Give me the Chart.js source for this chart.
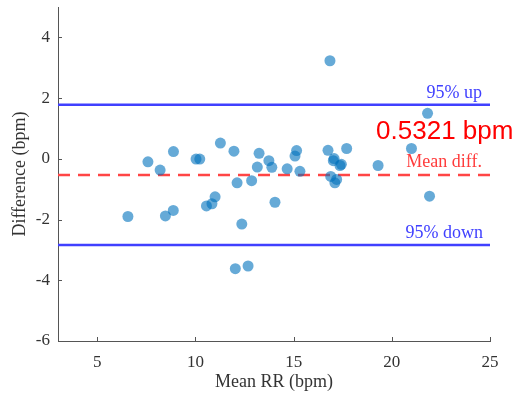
<!DOCTYPE html>
<html>
<head>
<meta charset="utf-8">
<script src="https://cdn.jsdelivr.net/npm/chart.js@4/dist/chart.umd.min.js"></script>
<style>
  html, body { margin: 0; padding: 0; background: #fff; }
  #wrap { width: 516px; height: 396px; }
</style>
</head>
<body>
<div id="wrap"><canvas id="bland" width="516" height="396"></canvas></div>
<script>
// Bland-Altman data
const meanRR = [
  6.56, 7.58, 8.20, 8.47, 8.87, 8.88, 10.03, 10.22, 10.56, 10.84,
  11.00, 11.27, 11.96, 12.12, 12.36, 12.03, 12.68, 12.86, 13.15, 13.24,
  13.74, 13.89, 14.05, 14.67, 15.07, 15.15, 15.32, 16.85, 16.75, 17.06,
  17.02, 17.43, 17.36, 17.70, 16.89, 17.19, 17.10, 19.30, 21.00, 21.82,
  21.92
];
const diffRR = [
  -1.90, -0.10, -0.37, -1.88, -1.70, 0.24, -0.01, -0.01, -1.55, -1.48,
  -1.25, 0.52, 0.25, -0.79, -2.15, -3.62, -3.53, -0.72, -0.27, 0.18,
  -0.06, -0.28, -1.43, -0.33, 0.09, 0.27, -0.41, 3.23, 0.28, 0.01,
  -0.06, -0.18, -0.22, 0.34, -0.58, -0.68, -0.79, -0.22, 0.34, 1.50,
  -1.23
];

const meanDiff = -0.53;
const upperLimit = 1.78;
const lowerLimit = -2.84;

const xTicks = [5, 10, 15, 20, 25];
const yTicks = [-6, -4, -2, 0, 2, 4];
const xRange = [3, 25];
const yRange = [-6, 5];

const serif = '"Liberation Serif", "DejaVu Serif", serif';
const blue = '#4040ff';
const red = '#ff4545';
const axisColor = '#555555';

const hLine = (value) => [
  { x: xRange[0], y: value },
  { x: xRange[1], y: value },
];

// inward tick marks + text labels
const decorations = {
  id: 'decorations',
  afterDatasetsDraw(chart) {
    const { ctx, chartArea } = chart;
    const xScale = chart.scales.x;
    const yScale = chart.scales.y;

    ctx.save();
    ctx.strokeStyle = axisColor;
    ctx.lineWidth = 1;
    ctx.beginPath();
    xTicks.forEach((tick) => {
      const px = Math.round(xScale.getPixelForValue(tick)) + 0.5;
      ctx.moveTo(px, chartArea.bottom);
      ctx.lineTo(px, chartArea.bottom - 4);
    });
    yTicks.forEach((tick) => {
      const py = Math.round(yScale.getPixelForValue(tick)) + 0.5;
      ctx.moveTo(chartArea.left, py);
      ctx.lineTo(chartArea.left + 4, py);
    });
    ctx.stroke();

    const rightX = xScale.getPixelForValue(xRange[1]) - 8;
    ctx.textAlign = 'right';
    ctx.textBaseline = 'alphabetic';
    ctx.font = `18px ${serif}`;

    ctx.fillStyle = blue;
    ctx.fillText('95% up', rightX, yScale.getPixelForValue(upperLimit) - 7);
    ctx.fillText('95% down', rightX + 1, yScale.getPixelForValue(lowerLimit) - 7);

    ctx.fillStyle = '#ff3b3b';
    ctx.fillText('Mean diff.', rightX, yScale.getPixelForValue(meanDiff) - 8);

    ctx.textAlign = 'left';
    ctx.fillStyle = '#ff0000';
    ctx.font = '26px "Liberation Sans", Arial, sans-serif';
    ctx.fillText('0.5321 bpm', xScale.getPixelForValue(19.2), yScale.getPixelForValue(0.64));
    ctx.restore();
  },
};

new Chart(document.getElementById('bland'), {
  type: 'scatter',
  data: {
    datasets: [
      {
        label: 'points',
        data: meanRR.map((x, i) => ({ x, y: diffRR[i] })),
        backgroundColor: 'rgba(0, 114, 189, 0.6)',
        borderWidth: 0,
        pointRadius: 5.5,
        order: 0,
      },
      {
        type: 'line',
        label: 'upper',
        data: hLine(upperLimit),
        borderColor: blue,
        borderWidth: 2.5,
        pointRadius: 0,
        order: 1,
      },
      {
        type: 'line',
        label: 'mean',
        data: hLine(meanDiff),
        borderColor: red,
        borderWidth: 2.5,
        borderDash: [12, 8],
        pointRadius: 0,
        order: 1,
      },
      {
        type: 'line',
        label: 'lower',
        data: hLine(lowerLimit),
        borderColor: blue,
        borderWidth: 2.5,
        pointRadius: 0,
        order: 1,
      },
    ],
  },
  options: {
    responsive: false,
    animation: false,
    devicePixelRatio: 1,
    layout: { padding: { top: 7, right: 26, left: 0, bottom: 0 } },
    plugins: {
      legend: { display: false },
      tooltip: { enabled: false },
    },
    scales: {
      x: {
        type: 'linear',
        min: xRange[0],
        max: xRange[1],
        afterFit: (scale) => {
          scale.height = 55;
          scale.paddingLeft = 0;
          scale.paddingRight = 0;
        },
        afterBuildTicks: (scale) => { scale.ticks = xTicks.map((value) => ({ value })); },
        grid: { display: false, drawTicks: false },
        border: { display: true, color: axisColor, width: 1 },
        ticks: {
          color: '#333',
          padding: 11,
          maxRotation: 0,
          font: { family: serif, size: 17 },
        },
        title: {
          display: true,
          text: 'Mean RR (bpm)',
          color: '#333',
          font: { family: serif, size: 18 },
          padding: { top: 0, bottom: 3 },
        },
      },
      y: {
        type: 'linear',
        min: yRange[0],
        max: yRange[1],
        afterFit: (scale) => {
          scale.width = 58;
          scale.paddingTop = 0;
          scale.paddingBottom = 0;
        },
        afterBuildTicks: (scale) => { scale.ticks = yTicks.map((value) => ({ value })); },
        grid: { display: false, drawTicks: false },
        border: { display: true, color: axisColor, width: 1 },
        ticks: {
          color: '#333',
          padding: 8,
          font: { family: serif, size: 17 },
        },
        title: {
          display: true,
          text: 'Difference (bpm)',
          color: '#333',
          font: { family: serif, size: 18 },
          padding: { top: 9, bottom: 0 },
        },
      },
    },
  },
  plugins: [decorations],
});
</script>
</body>
</html>
